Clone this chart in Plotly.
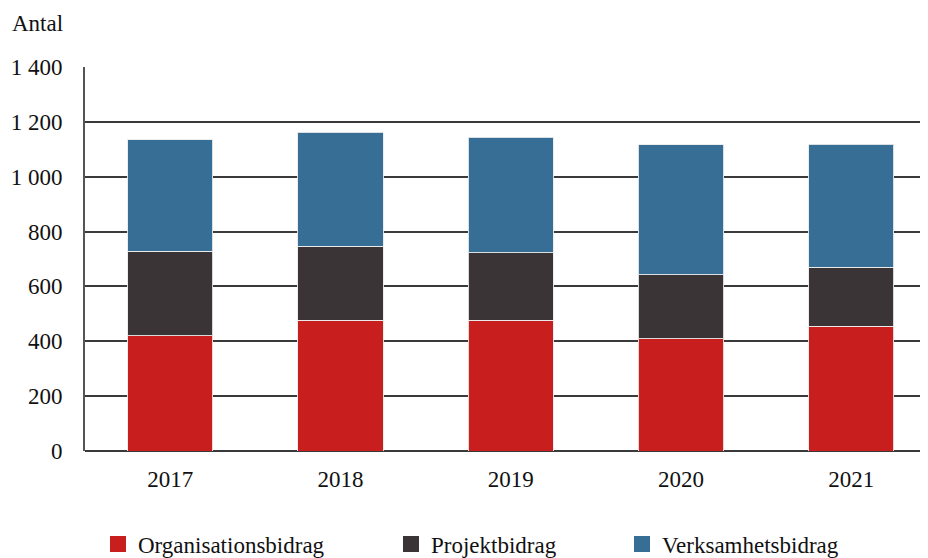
import plotly.graph_objects as go

years = ["2017", "2018", "2019", "2020", "2021"]
organisationsbidrag = [421, 476, 476, 410, 454]
projektbidrag = [307, 270, 246, 233, 216]
verksamhetsbidrag = [406, 416, 422, 474, 449]
y_tickvals = [0, 200, 400, 600, 800, 1000, 1200, 1400]
y_ticktext = ["0", "200", "400", "600", "800", "1 000", "1 200", "1 400"]

series = [
    ("Organisationsbidrag", organisationsbidrag, "#C81E1E", "legend", 98),
    ("Projektbidrag", projektbidrag, "#3A3436", "legend2", 391),
    ("Verksamhetsbidrag", verksamhetsbidrag, "#376E96", "legend3", 622),
]

font_family = "Liberation Serif, DejaVu Serif, serif"
line_style = dict(color="rgba(235,235,235,0.9)", width=1)
FS = 23
OFF = 8  # page body margin
plot_w, plot_h = 843, 384
plot_left, plot_top = 85 - OFF, 67 - OFF
W, H = 920, 550

fig = go.Figure()
for name, vals, color, lg, _ in series:
    fig.add_trace(go.Bar(x=years, y=vals, name=name, showlegend=False,
                         marker=dict(color=color, line=line_style), width=0.5))
for name, vals, color, lg, _ in series:
    fig.add_trace(go.Scatter(x=[None], y=[None], mode="markers", name=name,
                             marker=dict(symbol="square", size=17, color=color),
                             legend=lg, showlegend=True))

leg_y = -(544 - 451) / plot_h


def leg(px):
    return dict(orientation="h", x=(px - 85) / plot_w, xanchor="left",
                y=leg_y, yanchor="middle", font=dict(size=FS),
                itemwidth=30, bgcolor="rgba(0,0,0,0)")


layout_legends = {("legend" if i == 0 else f"legend{i+1}"): leg(s[4])
                  for i, s in enumerate(series)}

fig.update_layout(
    barmode="stack",
    width=W, height=H,
    margin=dict(l=plot_left, r=W - plot_left - plot_w, t=plot_top,
                b=H - plot_top - plot_h, autoexpand=False),
    paper_bgcolor="white", plot_bgcolor="white",
    font=dict(family=font_family, size=FS, color="#111111"),
    showlegend=True,
    **layout_legends,
    xaxis=dict(type="category", range=[-0.5, 4.45], showgrid=False,
               showline=False, ticks="", ticklabelstandoff=12,
               tickfont=dict(size=FS), automargin=False),
    yaxis=dict(range=[0, 1400], tickvals=y_tickvals, ticktext=y_ticktext,
               showgrid=True, gridcolor="#3a3a3a", gridwidth=1.5,
               showline=True, linecolor="#555555", linewidth=2,
               zeroline=True, zerolinecolor="#3a3a3a", zerolinewidth=2,
               ticks="", ticklabelstandoff=16, tickfont=dict(size=FS),
               automargin=False),
    annotations=[dict(text="Antal", xref="paper", yref="paper",
                      x=(10 - 85) / plot_w, y=1 + (67 - 24) / plot_h,
                      xanchor="left", yanchor="middle",
                      showarrow=False, font=dict(size=FS))],
)

fig.write_html("out.html")
